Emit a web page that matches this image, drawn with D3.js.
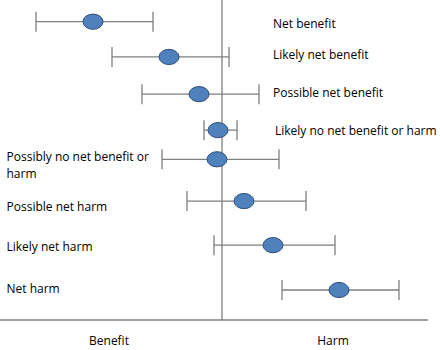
<!DOCTYPE html>
<html><head><meta charset="utf-8">
<script src="https://cdn.jsdelivr.net/npm/d3@7/dist/d3.min.js"></script>
<style>body{margin:0;background:#fff}svg{display:block}text{font-family:"Open Sans",sans-serif;font-size:12px;fill:#000}</style>
</head><body><svg id="c" width="440" height="350"></svg>
<script>
const categories = ["Net benefit","Likely net benefit","Possible net benefit","Likely no net benefit or harm","Possibly no net benefit or harm","Possible net harm","Likely net harm","Net harm"];
const estimate = [-1.29,-0.53,-0.23,-0.04,-0.05,0.22,0.51,1.17];
const lower    = [-1.86,-1.10,-0.80,-0.18,-0.60,-0.35,-0.08,0.60];
const upper    = [-0.69,0.07,0.37,0.15,0.57,0.84,1.13,1.77];
const rowValue = [0,0.92,1.89,2.83,3.59,4.68,5.83,7.0];
const labelRow = [0.17,0.97,1.96,2.96,3.64,4.95,5.98,7.09];
const labelSide = ["right","right","right","right","left","left","left","left"];
const labelLines = [["Net benefit"],["Likely net benefit"],["Possible net benefit"],["Likely no net benefit or harm"],["Possibly no net benefit or","harm"],["Possible net harm"],["Likely net harm"],["Net harm"]];
const axisLabels = ["Benefit","Harm"];
const axisLabelValue = [-1.13,1.11];

const svg = d3.select("#c");
const x = d3.scaleLinear().domain([-2.22,2.18]).range([0,440]);
const y = d3.scaleLinear().domain([0,7]).range([21.7,290]);
const grey = "#7f7f7f";

// null line and baseline
svg.append("line").attr("x1",x(0)).attr("x2",x(0)).attr("y1",0).attr("y2",320).attr("stroke",grey).attr("stroke-width",1.3);
svg.append("line").attr("x1",0).attr("x2",428).attr("y1",320).attr("y2",320).attr("stroke",grey).attr("stroke-width",1.3);

const rows = categories.map((c,i)=>({c,i,est:estimate[i],lo:lower[i],hi:upper[i],r:rowValue[i],lr:labelRow[i],side:labelSide[i],lines:labelLines[i]}));
const g = svg.selectAll("g.row").data(rows).join("g").attr("class","row");
g.append("line").attr("x1",d=>x(d.lo)).attr("x2",d=>x(d.hi)).attr("y1",d=>y(d.r)).attr("y2",d=>y(d.r)).attr("stroke",grey).attr("stroke-width",1.3);
g.append("line").attr("x1",d=>x(d.lo)).attr("x2",d=>x(d.lo)).attr("y1",d=>y(d.r)-10).attr("y2",d=>y(d.r)+10).attr("stroke",grey).attr("stroke-width",1.3);
g.append("line").attr("x1",d=>x(d.hi)).attr("x2",d=>x(d.hi)).attr("y1",d=>y(d.r)-10).attr("y2",d=>y(d.r)+10).attr("stroke",grey).attr("stroke-width",1.3);
g.append("ellipse").attr("cx",d=>x(d.est)).attr("cy",d=>y(d.r)).attr("rx",10).attr("ry",7.6).attr("fill","#4f81bd").attr("stroke","#2f4f7a").attr("stroke-width",1);
const t = g.append("text").attr("x",d=>d.side==="right"?273:6.5).attr("y",d=>y(d.lr));
t.selectAll("tspan").data(d=>d.lines.map((l,k)=>({l,k,d}))).join("tspan")
  .attr("x",e=>e.d.side==="right"?(e.d.i===3?275:273):6.5).attr("dy",e=>e.k?17:0).text(e=>e.l);

svg.selectAll("text.ax").data(axisLabels).join("text").attr("class","ax")
  .attr("x",(d,i)=>x(axisLabelValue[i])).attr("y",345).attr("text-anchor","middle").text(d=>d);
</script></body></html>
